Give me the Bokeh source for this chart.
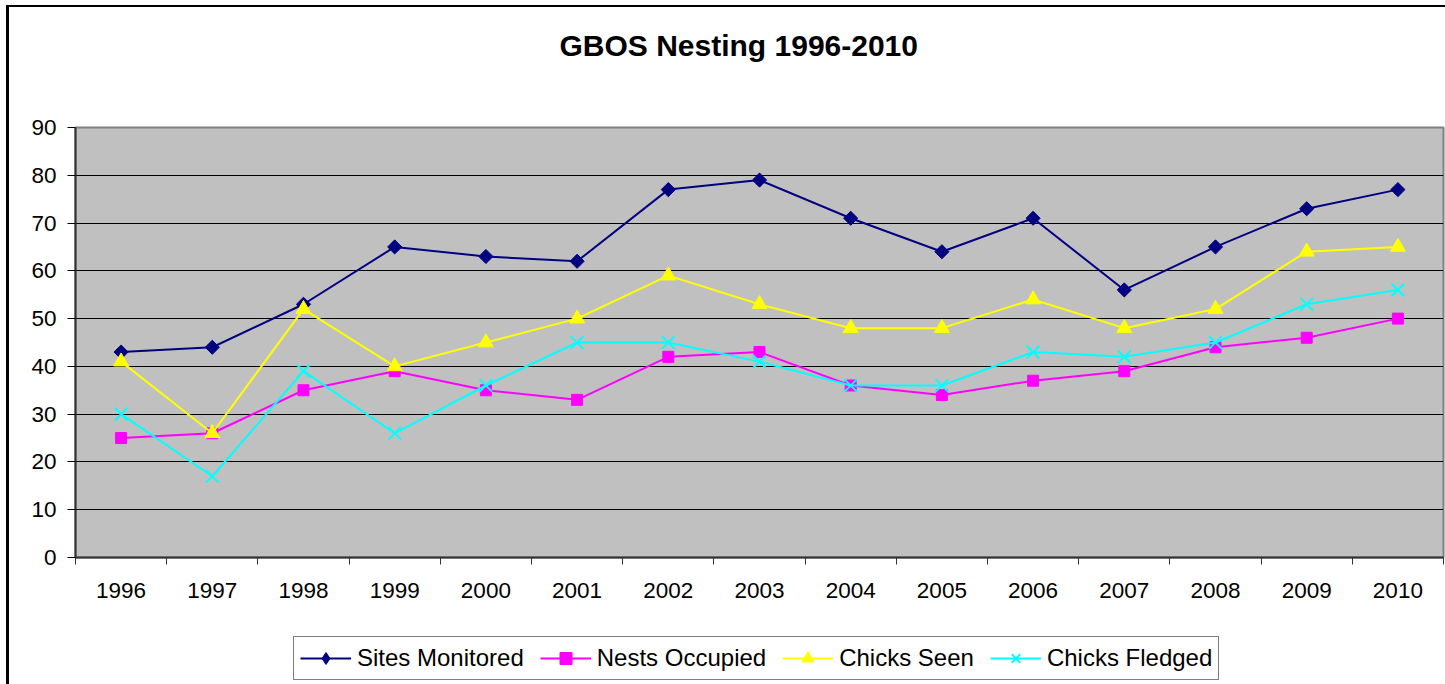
import math
from bokeh.plotting import figure
from bokeh.layouts import column
from bokeh.models import Range1d, FixedTicker, Legend, LegendItem, Title
from bokeh.embed import file_html
from bokeh.resources import INLINE

years = ["1996", "1997", "1998", "1999", "2000", "2001", "2002", "2003",
         "2004", "2005", "2006", "2007", "2008", "2009", "2010"]
sites_monitored = [43, 44, 53, 65, 63, 62, 77, 79, 71, 64, 71, 56, 65, 73, 77]
nests_occupied = [25, 26, 35, 39, 35, 33, 42, 43, 36, 34, 37, 39, 44, 46, 50]
chicks_seen = [41, 26, 52, 40, 45, 50, 59, 53, 48, 48, 54, 48, 52, 64, 65]
chicks_fledged = [30, 17, 39, 26, 36, 45, 45, 41, 36, 36, 43, 42, 45, 53, 56]
y_ticks = [0, 10, 20, 30, 40, 50, 60, 70, 80, 90]

FONT = "Liberation Sans"

x = [i + 0.5 for i in range(len(years))]

p = figure(frame_width=1368, frame_height=430, output_backend="svg",
           toolbar_location=None, title=None,
           x_range=Range1d(0, len(years)), y_range=Range1d(0, 90),
           min_border_left=75, min_border_right=2, min_border_top=127,
           min_border_bottom=70)

p.background_fill_color = "#C0C0C0"
p.border_fill_color = "white"
p.border_fill_alpha = 0
p.outline_line_color = "#808080"
p.outline_line_width = 2

# title: spacer panel next to the frame, then the title itself
spacer = Title(text=" ", text_font_size="2px", standoff=62)
p.add_layout(spacer, "above")
main_title = Title(text="GBOS Nesting 1996-2010", text_font=FONT,
                   text_font_size="30px", text_font_style="bold",
                   text_color="black", align="left", offset=484, standoff=0)
p.add_layout(main_title, "above")

# y axis
p.yaxis.ticker = FixedTicker(ticks=y_ticks)
p.yaxis.axis_line_color = "#333333"
p.yaxis.axis_line_width = 2
p.yaxis.major_tick_out = 8
p.yaxis.major_tick_in = 0
p.yaxis.major_tick_line_color = "black"
p.yaxis.minor_tick_line_color = None
p.yaxis.major_label_standoff = 11
p.yaxis.major_label_text_font = FONT
p.yaxis.major_label_text_font_size = "22.5px"
p.yaxis.major_label_text_color = "black"

# x axis
p.xaxis.ticker = FixedTicker(ticks=x, minor_ticks=list(range(len(years) + 1)))
p.xaxis.major_label_overrides = {xi: yr for xi, yr in zip(x, years)}
p.xaxis.axis_line_color = "#333333"
p.xaxis.axis_line_width = 2
p.xaxis.major_tick_out = 0
p.xaxis.major_tick_in = 0
p.xaxis.minor_tick_out = 7
p.xaxis.minor_tick_in = 0
p.xaxis.minor_tick_line_color = "#333333"
p.xaxis.minor_tick_line_width = 1
p.xaxis.major_label_standoff = 18
p.xaxis.major_label_text_font = FONT
p.xaxis.major_label_text_font_size = "22.5px"
p.xaxis.major_label_text_color = "black"

p.xgrid.grid_line_color = None
p.ygrid.ticker = FixedTicker(ticks=y_ticks[1:-1])
p.ygrid.grid_line_color = "black"
p.ygrid.grid_line_width = 1

series = [
    ("Sites Monitored", sites_monitored, "#000080", "square", 10, math.pi / 4, "diamond"),
    ("Nests Occupied", nests_occupied, "#FF00FF", "square", 11, 0, "square"),
    ("Chicks Seen", chicks_seen, "#FFFF00", "triangle", 15, 0, "triangle"),
    ("Chicks Fledged", chicks_fledged, "#00FFFF", "x", 18, 0, "x"),
]

# separate strip below the chart that holds the legend; its ranges keep the
# series data out of view so only the legend glyphs show
lf = figure(width=1445, height=57, output_backend="svg", toolbar_location=None,
            x_axis_type=None, y_axis_type=None, title=None,
            x_range=Range1d(0, 1), y_range=Range1d(-1, 0),
            min_border_left=0, min_border_right=0, min_border_top=0,
            min_border_bottom=0)
lf.background_fill_alpha = 0
lf.border_fill_alpha = 0
lf.outline_line_color = None
lf.xgrid.grid_line_color = None
lf.ygrid.grid_line_color = None

items = []
for name, vals, color, marker, size, ang, leg_marker in series:
    p.line(x, vals, line_color=color, line_width=2)
    if marker == "x":
        p.scatter(x, vals, marker=marker, size=size, line_color=color,
                  line_width=2)
    else:
        p.scatter(x, vals, marker=marker, size=size, angle=ang,
                  fill_color=color, line_color=color)
    l1 = lf.line(x, vals, line_color=color, line_width=2)
    if leg_marker == "x":
        l2 = lf.scatter(x, vals, marker="x", size=size, line_color=color,
                        line_width=2)
    else:
        l2 = lf.scatter(x, vals, marker=leg_marker, size=size,
                        fill_color=color, line_color=color)
    items.append(LegendItem(label=name, renderers=[l1, l2]))

legend = Legend(items=items, orientation="horizontal", location=(218, 4))
legend.label_text_font = FONT
legend.label_text_font_size = "24px"
legend.label_text_color = "black"
legend.glyph_width = 51
legend.glyph_height = 30
legend.label_standoff = 6
legend.spacing = 16
legend.padding = 6
legend.margin = 0
legend.border_line_color = "black"
legend.border_line_width = 1
legend.background_fill_color = "white"
legend.background_fill_alpha = 1
lf.add_layout(legend)

layout = column(p, lf, spacing=0)
# outer chart border (left and top edges) drawn with CSS inset shadows
layout.styles = {"box-shadow": "inset 6px 5px 0 0 white, inset 9px 7px 0 0 black",
                 "background-color": "white"}

open("out.html", "w").write(file_html(layout, INLINE))
